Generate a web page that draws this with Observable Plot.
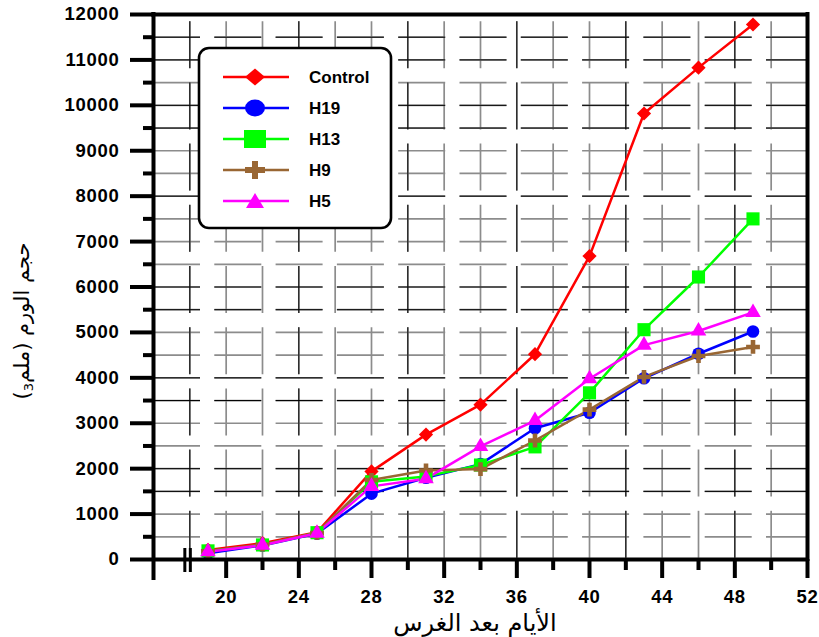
<!DOCTYPE html>
<html>
<head>
<meta charset="utf-8">
<script src="https://cdn.jsdelivr.net/npm/d3@7"></script>
<script src="https://cdn.jsdelivr.net/npm/@observablehq/plot@0.6"></script>
<style>
  body { margin: 0; background: #fff; }
  #wrap { position: relative; width: 819px; height: 637px; overflow: hidden; background: #fff;
          font-family: "Liberation Sans", Arial, "DejaVu Sans", sans-serif; }
  #wrap > svg.plot { position: absolute; left: 0; top: 0; }
  .ytitle { position: absolute; left: -98px; top: 307px; width: 240px; height: 28px; line-height: 28px;
            text-align: center; font-size: 21px; direction: rtl; transform: rotate(-90deg);
            font-family: "DejaVu Sans", "Liberation Sans", sans-serif; white-space: nowrap; }
  .ytitle sub { font-size: 13px; vertical-align: -4px; }
  .xtitle { position: absolute; left: 345px; top: 609px; width: 260px; height: 28px; line-height: 28px; text-align: center;
            font-size: 24px; direction: rtl; font-family: "DejaVu Sans", "Liberation Sans", sans-serif; white-space: nowrap; }
  #legend { position: absolute; left: 197px; top: 46px; }
</style>
</head>
<body>
<div id="wrap"></div>
<script>
// ---- data ----
const days = [19, 22, 25, 28, 31, 34, 37, 40, 43, 46, 49];
const control = [210, 360, 600, 1940, 2750, 3410, 4520, 6680, 9820, 10830, 11780];
const h19     = [140, 310, 570, 1450, 1800, 2100, 2890, 3230, 3990, 4530, 5020];
const h13     = [190, 320, 590, 1710, 1830, 2080, 2480, 3670, 5060, 6220, 7500];
const h9      = [180, 330, 585, 1750, 1960, 1990, 2620, 3300, 4020, 4480, 4680];
const h5      = [170, 315, 580, 1610, 1780, 2490, 3060, 3980, 4720, 5030, 5440];

const seriesNames   = ["Control", "H19", "H13", "H9", "H5"];
const seriesValues  = [control, h19, h13, h9, h5];
const seriesColors  = ["#ff0000", "#0000ff", "#00ff00", "#996633", "#ff00ff"];
const seriesSymbols = ["diamond2", "circle", "square", "cross", "triangle"];
const seriesR       = [6.4, 6.3, 7.4, 5.8, 5.8];

const xTickLabels = [20, 24, 28, 32, 36, 40, 44, 48, 52];
const xStartTick  = [16];
const xMinorTicks = [22, 26, 30, 34, 38, 42, 46, 50];
const xBreak      = [18];
const yTickLabels = [0, 1000, 2000, 3000, 4000, 5000, 6000, 7000, 8000, 9000, 10000, 11000, 12000];
const yMinorTicks = [500, 1500, 2500, 3500, 4500, 5500, 6500, 7500, 8500, 9500, 10500, 11500];
const xGrid     = [18, 20, 22, 24, 26, 28, 30, 32, 34, 36, 38, 40, 42, 44, 46, 48, 50];
const xGridDark = [18, 24, 30, 36, 42, 48];
const yGrid     = [500, 1000, 1500, 2000, 2500, 3000, 3500, 4000, 4500, 5000, 5500, 6000, 6500, 7000, 7500, 8000, 8500, 9000, 9500, 10000, 10500, 11000, 11500];
const yGridDark = [1500, 2000, 3500, 4000, 5500, 6000, 8000, 9500, 10000, 11000, 11500];

const xTitle = "الأيام بعد الغرس";
const yTitleMain = "حجم الورم (ملم";
const yTitleSub = "3";

// ---- build ----
const tables = seriesValues.map(vals => days.map((d, i) => ({day: d, v: vals[i]})));

const lineMarks = tables.map((t, k) =>
  Plot.line(t, {x: "day", y: "v", stroke: seriesColors[k], strokeWidth: 2.5}));
const dotMarks = tables.map((t, k) =>
  Plot.dot(t, {x: "day", y: "v", symbol: seriesSymbols[k], r: seriesR[k], fill: seriesColors[k], stroke: "none"}));

const gridStyleH = {strokeDasharray: "47,14.3"};
const gridStyleV = {strokeDasharray: "47,14.2", strokeDashoffset: 54};

const chart = Plot.plot({
  width: 819, height: 637,
  marginLeft: 153, marginRight: 12, marginTop: 14, marginBottom: 78,
  x: {domain: [16, 52]},
  y: {domain: [0, 12000]},
  style: {fontFamily: '"Liberation Sans", Arial, sans-serif', fontWeight: "bold", background: "transparent",
          overflow: "visible", color: "#000", letterSpacing: "0.7px"},
  marks: [
    Plot.ruleY(yGrid, {stroke: "#8c8c8c", strokeWidth: 1.7, ...gridStyleH}),
    Plot.ruleX(xGrid, {stroke: "#8c8c8c", strokeWidth: 1.7, ...gridStyleV}),
    Plot.ruleY(yGridDark, {stroke: "#000", strokeWidth: 1, ...gridStyleH}),
    Plot.ruleX(xGridDark, {stroke: "#000", strokeWidth: 1, ...gridStyleV}),
    ...lineMarks,
    ...dotMarks,
    // frame & axes lines
    Plot.ruleY([12000], {stroke: "#000", strokeWidth: 4, strokeLinecap: "square"}),
    Plot.ruleX([52], {stroke: "#000", strokeWidth: 4, strokeLinecap: "square"}),
    Plot.ruleY([0], {stroke: "#000", strokeWidth: 4}),
    Plot.ruleX(xStartTick, {stroke: "#000", strokeWidth: 4, insetBottom: -19, strokeLinecap: "square"}),
    // axis break marks
    Plot.ruleX(xBreak, {stroke: "#000", strokeWidth: 3, insetTop: 534, insetBottom: -13, dx: -5}),
    Plot.ruleX(xBreak, {stroke: "#000", strokeWidth: 3, insetTop: 534, insetBottom: -13, dx: 0.5}),
    // axes
    Plot.axisY(yTickLabels, {tickSize: 23, tickPadding: 11, strokeWidth: 4, fontSize: 18.5, fontWeight: "bold", label: null, tickFormat: d => String(d)}),
    Plot.axisY(yMinorTicks, {tickSize: 10, strokeWidth: 4, label: null, tickFormat: () => ""}),
    Plot.axisX(xTickLabels, {tickSize: 19, tickPadding: 11, strokeWidth: 4, fontSize: 18.5, fontWeight: "bold", label: null, tickFormat: d => String(d)}),
    Plot.axisX(xMinorTicks, {tickSize: 11, strokeWidth: 4, label: null, tickFormat: () => ""})
  ]
});
chart.classList.add("plot");
const wrap = document.getElementById("wrap");
wrap.appendChild(chart);

// titles
const yt = document.createElement("div");
yt.className = "ytitle";
yt.innerHTML = yTitleMain + "<sub>" + yTitleSub + "</sub>)";
wrap.appendChild(yt);
const xt = document.createElement("div");
xt.className = "xtitle";
xt.textContent = xTitle;
wrap.appendChild(xt);

// legend
const lw = 196, lh = 184;
const leg = d3.select(wrap).append("svg").attr("id", "legend").attr("width", lw).attr("height", lh);
leg.append("rect").attr("x", 2).attr("y", 2).attr("width", lw - 4).attr("height", lh - 4)
  .attr("rx", 10).attr("fill", "#fff").attr("stroke", "#000").attr("stroke-width", 2.6);
const rowY = [31, 62, 93, 124, 155];
seriesNames.forEach((name, k) => {
  const g = leg.append("g").attr("transform", `translate(0,${rowY[k]})`);
  g.append("line").attr("x1", 26).attr("x2", 92).attr("y1", 0).attr("y2", 0)
    .attr("stroke", seriesColors[k]).attr("stroke-width", 2.6);
  const c = seriesColors[k], cx = 58;
  const s = seriesSymbols[k];
  if (s === "diamond2") g.append("path").attr("d", `M${cx-10},0L${cx},-8.5L${cx+10},0L${cx},8.5Z`).attr("fill", c);
  else if (s === "circle") g.append("ellipse").attr("cx", cx).attr("cy", 0).attr("rx", 10).attr("ry", 8.5).attr("fill", c);
  else if (s === "square") g.append("rect").attr("x", cx - 11).attr("y", -9).attr("width", 22).attr("height", 18).attr("fill", c);
  else if (s === "cross") g.append("path").attr("d", `M${cx-10},-3L${cx-3},-3L${cx-3},-9L${cx+3},-9L${cx+3},-3L${cx+10},-3L${cx+10},3L${cx+3},3L${cx+3},9L${cx-3},9L${cx-3},3L${cx-10},3Z`).attr("fill", c);
  else g.append("path").attr("d", `M${cx-9},7L${cx},-8L${cx+9},7Z`).attr("fill", c);
  g.append("text").attr("x", 112).attr("y", 6).text(name)
    .attr("font-family", '"Liberation Sans", Arial, sans-serif').attr("font-weight", "bold").attr("font-size", 17);
});
</script>
</body>
</html>
